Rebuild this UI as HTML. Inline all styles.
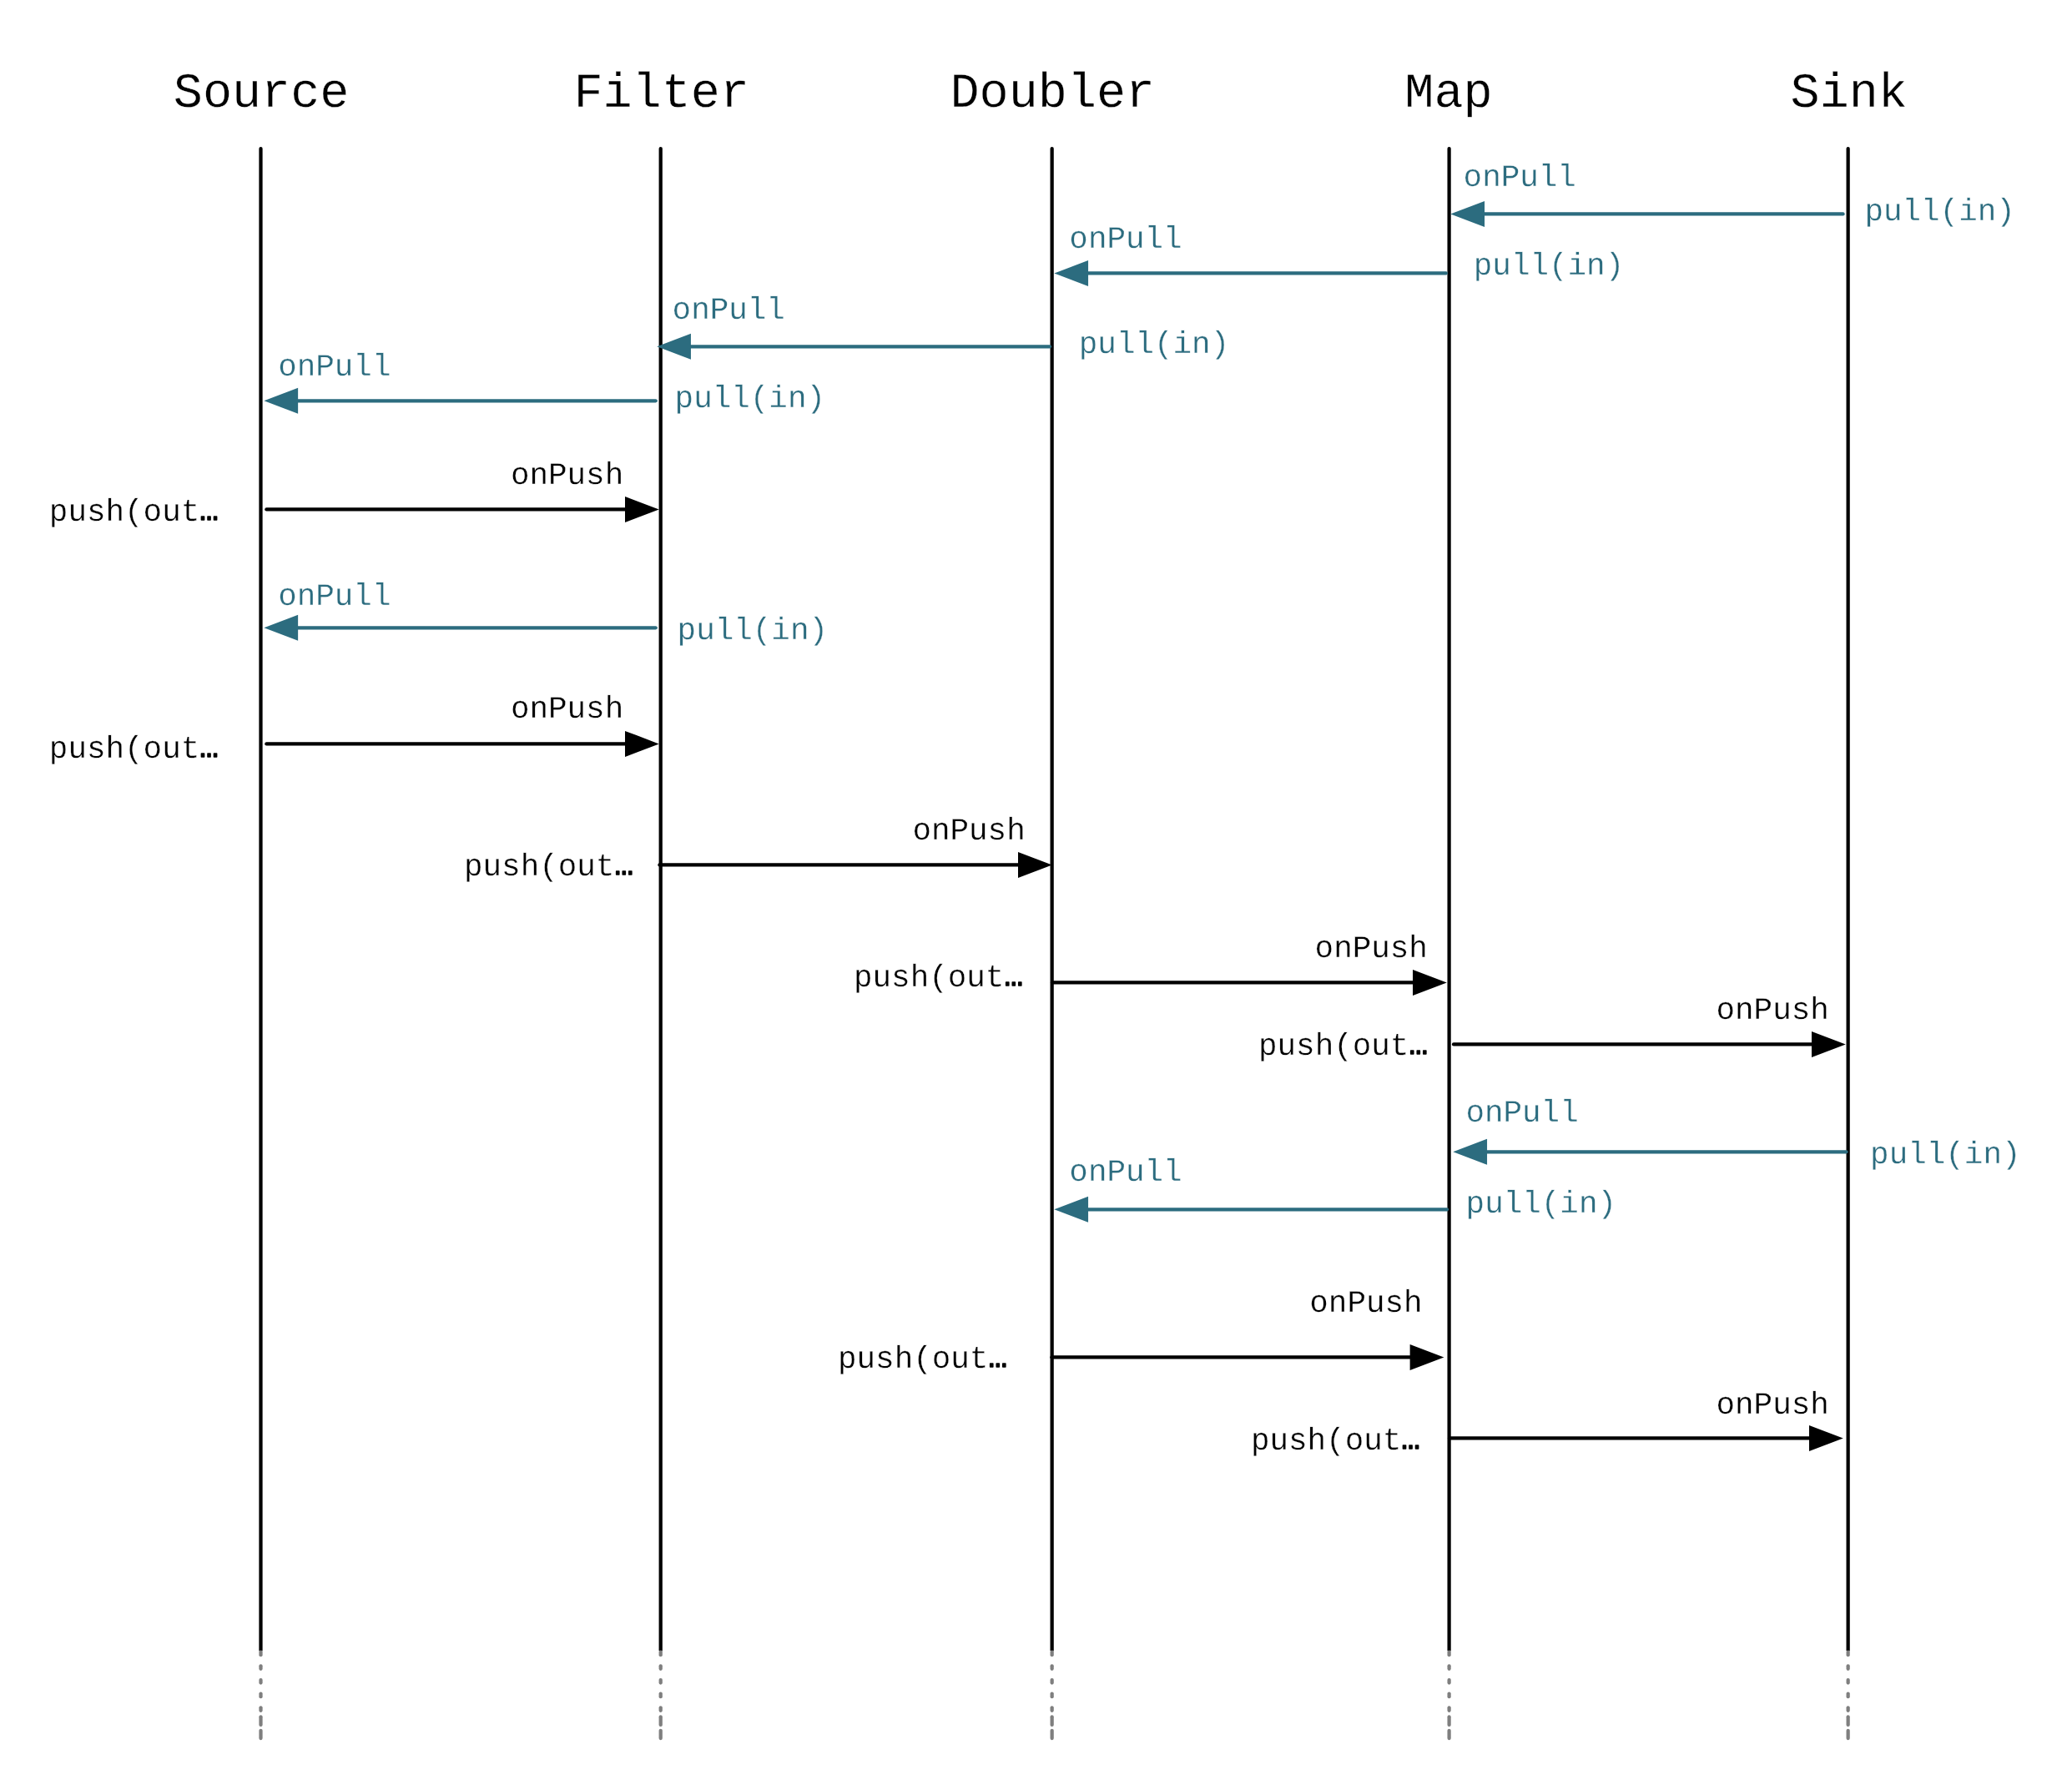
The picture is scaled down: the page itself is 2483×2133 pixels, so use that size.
<!DOCTYPE html>
<html lang="en">
<head>
<meta charset="utf-8">
<title>Stream stages sequence diagram</title>
<style>
html,body{margin:0;padding:0;background:#fff;}
body{width:2483px;height:2133px;overflow:hidden;}
svg{display:block;will-change:transform;}
text{font-family:"Liberation Mono","DejaVu Sans Mono",monospace;text-rendering:geometricPrecision;stroke:#fff;stroke-width:0.3px;stroke-linejoin:round;}
.t{font-size:58.5px;fill:#000;text-anchor:middle;}
.k{font-size:37.6px;fill:#000;text-anchor:middle;}
.p{font-size:37.6px;fill:#2c6c7f;text-anchor:middle;}
.e{stroke:#000;stroke-width:1.5px;}
.ll{stroke:#000;stroke-width:4.25;stroke-linecap:round;fill:none;}
.dl{stroke:#7f7f7f;stroke-width:4.25;stroke-linecap:round;fill:none;}
.ak{stroke:#000;stroke-width:4.25;stroke-linecap:round;fill:none;}
.ap{stroke:#2c6c7f;stroke-width:4.25;stroke-linecap:round;fill:none;}
.hk{fill:#000;}
.hp{fill:#2c6c7f;}
</style>
</head>
<body>
<svg width="2483" height="2133" viewBox="0 0 2483 2133">
<g id="titles">
<text class="t" x="313.13" y="128.0">Source</text>
<text class="t" x="792.72" y="128.0">Filter</text>
<text class="t" x="1261.36" y="128.0">Doubler</text>
<text class="t" x="1736.00" y="128.0">Map</text>
<text class="t" x="2215.77" y="128.0">Sink</text>
</g>
<g id="lifelines">
<line class="ll" x1="312.5" y1="178.03" x2="312.5" y2="1977.17"/>
<line class="dl" x1="312.5" y1="1979.62" x2="312.5" y2="1983.17"/>
<line class="dl" x1="312.5" y1="1996.33" x2="312.5" y2="1999.78"/>
<line class="dl" x1="312.5" y1="2013.12" x2="312.5" y2="2016.58"/>
<line class="dl" x1="312.5" y1="2029.62" x2="312.5" y2="2033.17"/>
<line class="dl" x1="312.5" y1="2046.33" x2="312.5" y2="2049.78"/>
<line class="dl" x1="312.5" y1="2057.32" x2="312.5" y2="2066.88"/>
<line class="dl" x1="312.5" y1="2073.82" x2="312.5" y2="2083.12"/>
<line class="ll" x1="791.7" y1="178.03" x2="791.7" y2="1977.17"/>
<line class="dl" x1="791.7" y1="1979.62" x2="791.7" y2="1983.17"/>
<line class="dl" x1="791.7" y1="1996.33" x2="791.7" y2="1999.78"/>
<line class="dl" x1="791.7" y1="2013.12" x2="791.7" y2="2016.58"/>
<line class="dl" x1="791.7" y1="2029.62" x2="791.7" y2="2033.17"/>
<line class="dl" x1="791.7" y1="2046.33" x2="791.7" y2="2049.78"/>
<line class="dl" x1="791.7" y1="2057.32" x2="791.7" y2="2066.88"/>
<line class="dl" x1="791.7" y1="2073.82" x2="791.7" y2="2083.12"/>
<line class="ll" x1="1260.65" y1="178.03" x2="1260.65" y2="1977.17"/>
<line class="dl" x1="1260.65" y1="1979.62" x2="1260.65" y2="1983.17"/>
<line class="dl" x1="1260.65" y1="1996.33" x2="1260.65" y2="1999.78"/>
<line class="dl" x1="1260.65" y1="2013.12" x2="1260.65" y2="2016.58"/>
<line class="dl" x1="1260.65" y1="2029.62" x2="1260.65" y2="2033.17"/>
<line class="dl" x1="1260.65" y1="2046.33" x2="1260.65" y2="2049.78"/>
<line class="dl" x1="1260.65" y1="2057.32" x2="1260.65" y2="2066.88"/>
<line class="dl" x1="1260.65" y1="2073.82" x2="1260.65" y2="2083.12"/>
<line class="ll" x1="1736.6" y1="178.03" x2="1736.6" y2="1977.17"/>
<line class="dl" x1="1736.6" y1="1979.62" x2="1736.6" y2="1983.17"/>
<line class="dl" x1="1736.6" y1="1996.33" x2="1736.6" y2="1999.78"/>
<line class="dl" x1="1736.6" y1="2013.12" x2="1736.6" y2="2016.58"/>
<line class="dl" x1="1736.6" y1="2029.62" x2="1736.6" y2="2033.17"/>
<line class="dl" x1="1736.6" y1="2046.33" x2="1736.6" y2="2049.78"/>
<line class="dl" x1="1736.6" y1="2057.32" x2="1736.6" y2="2066.88"/>
<line class="dl" x1="1736.6" y1="2073.82" x2="1736.6" y2="2083.12"/>
<line class="ll" x1="2214.65" y1="178.03" x2="2214.65" y2="1977.17"/>
<line class="dl" x1="2214.65" y1="1979.62" x2="2214.65" y2="1983.17"/>
<line class="dl" x1="2214.65" y1="1996.33" x2="2214.65" y2="1999.78"/>
<line class="dl" x1="2214.65" y1="2013.12" x2="2214.65" y2="2016.58"/>
<line class="dl" x1="2214.65" y1="2029.62" x2="2214.65" y2="2033.17"/>
<line class="dl" x1="2214.65" y1="2046.33" x2="2214.65" y2="2049.78"/>
<line class="dl" x1="2214.65" y1="2057.32" x2="2214.65" y2="2066.88"/>
<line class="dl" x1="2214.65" y1="2073.82" x2="2214.65" y2="2083.12"/>
</g>
<g id="arrows">
<line class="ap" x1="2208.6" y1="256.4" x2="1778.05" y2="256.4"/><polygon class="hp" points="1738.30,256.4 1779.05,240.90 1779.05,271.90"/>
<line class="ap" x1="1732.8" y1="327.45" x2="1303.05" y2="327.45"/><polygon class="hp" points="1263.30,327.45 1304.05,311.95 1304.05,342.95"/>
<line class="ap" x1="1258.0" y1="415.3" x2="826.95" y2="415.3"/><polygon class="hp" points="787.20,415.3 827.95,399.80 827.95,430.80"/>
<line class="ap" x1="785.7" y1="480.3" x2="356.15" y2="480.3"/><polygon class="hp" points="316.40,480.3 357.15,464.80 357.15,495.80"/>
<line class="ak" x1="319.35" y1="610.45" x2="750.00" y2="610.45"/><polygon class="hk" points="789.75,610.45 749.00,594.95 749.00,625.95"/>
<line class="ap" x1="785.7" y1="752.25" x2="356.15" y2="752.25"/><polygon class="hp" points="316.40,752.25 357.15,736.75 357.15,767.75"/>
<line class="ak" x1="319.35" y1="891.4" x2="750.00" y2="891.4"/><polygon class="hk" points="789.75,891.4 749.00,875.90 749.00,906.90"/>
<line class="ak" x1="790.4" y1="1036.4" x2="1221.00" y2="1036.4"/><polygon class="hk" points="1260.75,1036.4 1220.00,1020.90 1220.00,1051.90"/>
<line class="ak" x1="1261.0" y1="1177.45" x2="1694.00" y2="1177.45"/><polygon class="hk" points="1733.75,1177.45 1693.00,1161.95 1693.00,1192.95"/>
<line class="ak" x1="1742.0" y1="1251.45" x2="2172.00" y2="1251.45"/><polygon class="hk" points="2211.75,1251.45 2171.00,1235.95 2171.00,1266.95"/>
<line class="ap" x1="2212.5" y1="1380.3" x2="1781.05" y2="1380.3"/><polygon class="hp" points="1741.30,1380.3 1782.05,1364.80 1782.05,1395.80"/>
<line class="ap" x1="1734.0" y1="1449.25" x2="1303.05" y2="1449.25"/><polygon class="hp" points="1263.30,1449.25 1304.05,1433.75 1304.05,1464.75"/>
<line class="ak" x1="1260.4" y1="1626.4" x2="1690.60" y2="1626.4"/><polygon class="hk" points="1730.35,1626.4 1689.60,1610.90 1689.60,1641.90"/>
<line class="ak" x1="1737.0" y1="1723.4" x2="2169.00" y2="1723.4"/><polygon class="hk" points="2208.75,1723.4 2168.00,1707.90 2168.00,1738.90"/>
</g>
<g id="labels">
<text class="p" x="1821.24" y="223.00">onPull</text>
<text class="p" x="2324.58" y="264.00">pull(in)</text>
<text class="p" x="1349.02" y="297.05">onPull</text>
<text class="p" x="1856.01" y="328.85">pull(in)</text>
<text class="p" x="873.25" y="382.05">onPull</text>
<text class="p" x="1383.03" y="422.80">pull(in)</text>
<text class="p" x="400.81" y="450.17">onPull</text>
<text class="p" x="898.79" y="487.80">pull(in)</text>
<text class="k" x="679.57" y="580.10">onPush</text>
<text class="k" x="160.35" y="623.70">push(out<tspan class="e" dy="-0.5">…</tspan></text>
<text class="p" x="400.81" y="725.17">onPull</text>
<text class="p" x="901.82" y="765.74">pull(in)</text>
<text class="k" x="679.57" y="860.10">onPush</text>
<text class="k" x="160.35" y="907.76">push(out<tspan class="e" dy="-0.5">…</tspan></text>
<text class="k" x="1161.04" y="1006.00">onPush</text>
<text class="k" x="657.49" y="1048.70">push(out<tspan class="e" dy="-0.5">…</tspan></text>
<text class="k" x="1643.24" y="1147.00">onPush</text>
<text class="k" x="1124.51" y="1181.90">push(out<tspan class="e" dy="-0.5">…</tspan></text>
<text class="k" x="2124.17" y="1221.00">onPush</text>
<text class="k" x="1609.51" y="1263.70">push(out<tspan class="e" dy="-0.5">…</tspan></text>
<text class="p" x="1824.04" y="1344.10">onPull</text>
<text class="p" x="2331.31" y="1394.00">pull(in)</text>
<text class="p" x="1349.02" y="1415.10">onPull</text>
<text class="p" x="1846.79" y="1452.85">pull(in)</text>
<text class="k" x="1636.97" y="1572.00">onPush</text>
<text class="k" x="1105.51" y="1638.70">push(out<tspan class="e" dy="-0.5">…</tspan></text>
<text class="k" x="2124.17" y="1693.90">onPush</text>
<text class="k" x="1600.42" y="1736.90">push(out<tspan class="e" dy="-0.5">…</tspan></text>
</g>
</svg>
</body>
</html>
